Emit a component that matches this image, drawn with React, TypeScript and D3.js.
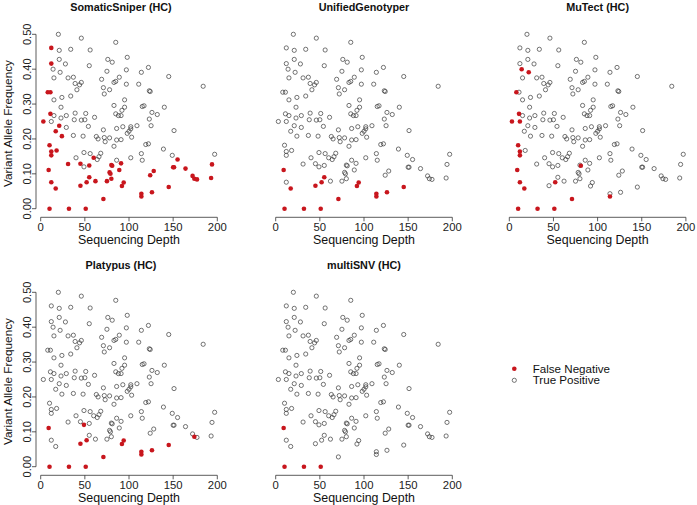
import React from "react";
import * as d3 from "d3";

// Sequencing depth and variant allele frequency of each spiked-in SNV
const depth = [
  20, 46, 85, 12, 21, 34, 56, 98, 76, 81, 21, 12, 28, 55, 122, 114, 97, 14, 22, 75,
  145, 37, 31, 15, 69, 89, 184, 39, 46, 44, 83, 85, 97, 111, 71, 41, 78, 123, 124, 8,
  11, 72, 34, 24, 15, 95, 83, 117, 115, 140, 23, 95, 51, 39, 11, 15, 85, 88, 91, 92,
  132, 126, 123, 61, 23, 29, 46, 50, 3, 12, 38, 21, 29, 54, 71, 86, 93, 102, 102, 109,
  125, 151, 17, 100, 98, 63, 65, 72, 78, 73, 24, 37, 48, 83, 86, 91, 103, 119, 122, 139,
  10, 12, 12, 18, 49, 56, 60, 66, 68, 64, 40, 49, 45, 55, 31, 114, 115, 102, 86, 80,
  81, 91, 89, 149, 155, 164, 150, 151, 197, 194, 128, 124, 172, 174, 177, 193, 55, 52, 62, 45,
  78, 79, 75, 80, 94, 92, 145, 126, 114, 114, 71, 12, 17, 9, 10, 32, 51,
];
const vaf = [
  0.5, 0.489, 0.477, 0.461, 0.454, 0.457, 0.455, 0.434, 0.428, 0.42, 0.428, 0.416, 0.415, 0.41, 0.405, 0.391, 0.398, 0.4, 0.391, 0.394,
  0.379, 0.377, 0.375, 0.375, 0.371, 0.377, 0.351, 0.359, 0.362, 0.355, 0.362, 0.365, 0.357, 0.357, 0.347, 0.341, 0.341, 0.338, 0.336, 0.334,
  0.334, 0.329, 0.323, 0.319, 0.312, 0.312, 0.296, 0.295, 0.293, 0.291, 0.291, 0.291, 0.273, 0.274, 0.272, 0.267, 0.272, 0.267, 0.267, 0.282,
  0.27, 0.276, 0.257, 0.262, 0.26, 0.267, 0.254, 0.255, 0.25, 0.25, 0.255, 0.238, 0.233, 0.236, 0.226, 0.23, 0.235, 0.235, 0.229, 0.238,
  0.238, 0.224, 0.222, 0.222, 0.216, 0.207, 0.2, 0.204, 0.203, 0.192, 0.208, 0.21, 0.208, 0.179, 0.197, 0.198, 0.205, 0.184, 0.186, 0.171,
  0.182, 0.164, 0.153, 0.167, 0.161, 0.158, 0.146, 0.149, 0.159, 0.141, 0.146, 0.12, 0.129, 0.124, 0.128, 0.158, 0.139, 0.146, 0.139, 0.125,
  0.123, 0.13, 0.111, 0.153, 0.141, 0.115, 0.119, 0.119, 0.156, 0.127, 0.108, 0.096, 0.094, 0.086, 0.084, 0.088, 0.09, 0.076, 0.079, 0.066,
  0.104, 0.1, 0.079, 0.086, 0.075, 0.065, 0.062, 0.047, 0.043, 0.035, 0.028, 0.076, 0.058, 0.111, 0, 0, 0,
];

// Indices of the SNVs each caller missed (false negatives)
const fnSomaticSniper = [
  3, 11, 39, 40, 54, 68, 71, 82, 90, 100, 101, 102, 103, 106, 112, 113, 114, 119, 120, 121, 122, 124, 125, 126, 127,
  129, 130, 131, 132, 133, 134, 135, 136, 137, 138, 139, 140, 141, 142, 143, 144, 145, 146, 147, 148, 149, 150, 151,
  152, 153, 154, 155, 156,
];
const fnUnifiedGenotyper = [136, 137, 139, 144, 145, 146, 147, 148, 149, 150, 152, 153, 154, 155, 156];
const fnMuTect = [17, 18, 39, 54, 68, 69, 100, 101, 102, 120, 137, 149, 150, 151, 152, 153, 154, 155, 156];
const fnPlatypus = [111, 133, 137, 139, 144, 145, 146, 147, 148, 149, 150, 153, 154, 155, 156];
const fnMultiSNV = [153, 154, 155, 156];

const callerNames = ["SomaticSniper (HC)", "UnifiedGenotyper", "MuTect (HC)", "Platypus (HC)", "multiSNV (HC)"];
const callerFN = [fnSomaticSniper, fnUnifiedGenotyper, fnMuTect, fnPlatypus, fnMultiSNV];
const legendLabels = ["False Negative", "True Positive"];

const RED = "#c8161d";
const STROKE = "#3a3a3a";
const FONT = "'Liberation Sans', Arial, Helvetica, sans-serif";

const colX0 = [40.7, 275.7, 509.3];
const rowY0 = [208.7, 466.7];
const W = 176.6;
const H = 174.4;
const ROW_H = 258;

function Panel({ idx }: { idx: number }) {
  const col = idx % 3;
  const row = Math.floor(idx / 3);
  const x = d3.scaleLinear().domain([0, 200]).range([colX0[col], colX0[col] + W]);
  const y = d3.scaleLinear().domain([0, 0.5]).range([rowY0[row], rowY0[row] - H]);
  const fn = new Set(callerFN[idx]);
  const axisY = rowY0[row] + 8.6;
  const yAxisX = 36;
  const showY = col === 0;
  const titleX = col === 0 ? 121 : (x(0) + x(200)) / 2;
  const fmt = d3.format(".2f");
  const pts = depth.map((d, i) => ({ d, v: vaf[i], fn: fn.has(i) }));
  return (
    <g>
      <text x={titleX} y={row * ROW_H + 10.5} textAnchor="middle" fontWeight="bold" fontSize={10.8} fill="#111">
        {callerNames[idx]}
      </text>
      {/* x axis */}
      <line x1={x(0)} x2={x(200)} y1={axisY} y2={axisY} stroke="#333" strokeWidth={0.8} />
      {x.ticks(4).map((t) => (
        <g key={t}>
          <line x1={x(t)} x2={x(t)} y1={axisY} y2={axisY + 4} stroke="#333" strokeWidth={0.8} />
          <text x={x(t)} y={axisY + 13.5} textAnchor="middle" fontSize={11.3} fill="#222">
            {t}
          </text>
        </g>
      ))}
      <text x={(x(0) + x(200)) / 2} y={row * ROW_H + 244} textAnchor="middle" fontSize={12.4} fill="#111">
        Sequencing Depth
      </text>
      {showY && (
        <g>
          <line x1={yAxisX} x2={yAxisX} y1={y(0)} y2={y(0.5)} stroke="#333" strokeWidth={0.8} />
          {y.ticks(5).map((t) => (
            <g key={t}>
              <line x1={yAxisX - 4} x2={yAxisX} y1={y(t)} y2={y(t)} stroke="#333" strokeWidth={0.8} />
              <text
                transform={`translate(${30.5},${y(t)}) rotate(-90)`}
                textAnchor="middle"
                fontSize={11}
                fill="#222"
              >
                {fmt(t)}
              </text>
            </g>
          ))}
          <text
            transform={`translate(${12.3},${(y(0) + y(0.5)) / 2 + 2}) rotate(-90)`}
            textAnchor="middle"
            fontSize={11.8}
            fill="#111"
          >
            Variant Allele Frequency
          </text>
        </g>
      )}
      {pts
        .filter((p) => !p.fn)
        .map((p, i) => (
          <circle key={"o" + i} cx={x(p.d)} cy={y(p.v)} r={2.1} fill="none" stroke={STROKE} strokeWidth={0.7} />
        ))}
      {pts
        .filter((p) => p.fn)
        .map((p, i) => (
          <circle key={"f" + i} cx={x(p.d)} cy={y(p.v)} r={2.3} fill={RED} />
        ))}
    </g>
  );
}

export default function App() {
  return (
    <svg
      width={697}
      height={505}
      style={{ position: "absolute", left: 0, top: 0, background: "#fff" }}
      fontFamily={FONT}
    >
      <rect x={0} y={0} width={697} height={505} fill="#fff" />
      {callerNames.map((_, i) => (
        <Panel key={i} idx={i} />
      ))}
      <g>
        <circle cx={514.3} cy={368.7} r={2.3} fill={RED} />
        <circle cx={514.3} cy={380.3} r={2.1} fill="none" stroke={STROKE} strokeWidth={0.7} />
        <text x={532.7} y={372.6} fontSize={11.6} fill="#111">
          {legendLabels[0]}
        </text>
        <text x={532.7} y={384.4} fontSize={11.6} fill="#111">
          {legendLabels[1]}
        </text>
      </g>
    </svg>
  );
}
